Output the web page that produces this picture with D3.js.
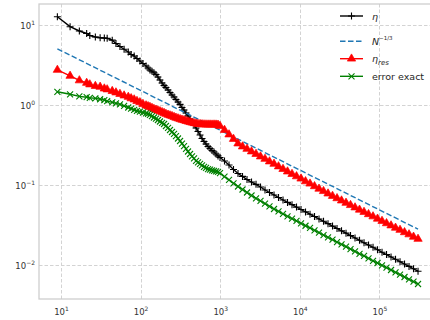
<!DOCTYPE html>
<html>
<head>
<meta charset="utf-8">
<script src="https://cdn.jsdelivr.net/npm/d3@7/dist/d3.min.js"></script>
<style>
body { margin: 0; background: #fff; }
svg text { font-family: "DejaVu Sans", sans-serif; }
</style>
</head>
<body>
<div id="chart"></div>
<script>
const width = 430, height = 320;
const plotLeft = 39, plotTop = 4, plotRight = 430, plotBottom = 299;

// number of degrees of freedom for every refinement step
const dofs = [9, 13, 17, 21, 23, 27, 31, 35, 38, 44, 49, 55, 62, 70, 76, 83, 90, 98,
  107, 117, 124, 131, 139, 147, 156, 165, 175, 186, 197, 208, 221, 234, 248, 263, 278,
  295, 313, 331, 351, 372, 394, 418, 442, 469, 497, 526, 558, 591, 626, 663, 703, 745,
  789, 836, 886, 938, 994, 1132, 1290, 1469, 1673, 1906, 2171, 2473, 2817, 3208, 3654,
  4162, 4741, 5400, 6151, 7006, 7980, 9090, 10354, 11794, 13434, 15301, 17429, 19852,
  22612, 25756, 29337, 33416, 38062, 43354, 49382, 56248, 64069, 72977, 83123, 94681,
  107845, 122840, 139920, 159374, 181533, 206773, 235523, 268270, 305570];

const eta = [12.6, 9.45, 8.35, 7.77, 7.33, 7.02, 6.88, 6.82, 6.75, 6.41, 5.82, 5.34, 4.93,
  4.56, 4.24, 4.06, 3.78, 3.52, 3.27, 3.05,
  2.88, 2.72, 2.62, 2.51, 2.39, 2.22, 2.04, 1.87, 1.74, 1.64, 1.53, 1.42, 1.32, 1.25, 1.16,
  1.08, 1.01, 0.923, 0.859, 0.788, 0.723, 0.663, 0.608, 0.558, 0.512, 0.463, 0.418, 0.378,
  0.347, 0.323, 0.300, 0.284, 0.268, 0.256, 0.242, 0.229, 0.219,
  0.198, 0.176, 0.155, 0.138, 0.127, 0.116, 0.108, 0.101, 0.0936, 0.0859, 0.0799, 0.0744,
  0.0692, 0.0644, 0.0601, 0.0563, 0.0525, 0.0490, 0.0457, 0.0428, 0.0400, 0.0373, 0.0349,
  0.0326, 0.0304, 0.0284, 0.0265, 0.0248, 0.0231, 0.0216, 0.0202, 0.0188, 0.0176, 0.0165,
  0.0154, 0.0143, 0.0134, 0.0125, 0.0117, 0.0109, 0.0102, 0.00953, 0.00889, 0.00830];

const etaRes = [2.72, 2.29, 2.01, 1.87, 1.79, 1.71, 1.67, 1.59, 1.55, 1.48, 1.42, 1.36, 1.30,
  1.25, 1.20, 1.16, 1.11, 1.07, 1.02, 0.978,
  0.955, 0.936, 0.910, 0.884, 0.864, 0.847, 0.827, 0.806, 0.788, 0.766, 0.748, 0.733, 0.719,
  0.702, 0.686, 0.673, 0.659, 0.648, 0.639, 0.626, 0.615, 0.605, 0.596, 0.587, 0.581, 0.574,
  0.571, 0.568, 0.566, 0.565, 0.564, 0.564, 0.563, 0.564, 0.563, 0.561, 0.542,
  0.483, 0.424, 0.373, 0.327, 0.300, 0.280, 0.260, 0.242, 0.225, 0.210, 0.195, 0.182, 0.169,
  0.157, 0.146, 0.136, 0.127, 0.119, 0.110, 0.103, 0.0955, 0.0889, 0.0830, 0.0774, 0.0723,
  0.0676, 0.0633, 0.0592, 0.0555, 0.0519, 0.0486, 0.0456, 0.0427, 0.0401, 0.0375, 0.0352,
  0.0329, 0.0309, 0.0289, 0.0272, 0.0254, 0.0239, 0.0223, 0.0210];

const errExact = [1.45, 1.35, 1.27, 1.24, 1.22, 1.20, 1.17, 1.14, 1.11, 1.07, 1.04, 1.01,
  0.964, 0.923, 0.892, 0.864, 0.839, 0.818, 0.799, 0.781,
  0.766, 0.744, 0.719, 0.692, 0.669, 0.644, 0.617, 0.594, 0.574, 0.542, 0.512, 0.483, 0.456,
  0.431, 0.406, 0.378, 0.352, 0.327, 0.303, 0.280, 0.260, 0.242, 0.226, 0.213, 0.199, 0.190,
  0.182, 0.174, 0.167, 0.162, 0.157, 0.154, 0.151, 0.149, 0.147, 0.145, 0.140,
  0.126, 0.115, 0.104, 0.0950, 0.0871, 0.0799, 0.0733, 0.0676, 0.0626, 0.0579, 0.0537,
  0.0497, 0.0463, 0.0431, 0.0402, 0.0376, 0.0352, 0.0328, 0.0307, 0.0288, 0.0269, 0.0251,
  0.0235, 0.0220, 0.0206, 0.0192, 0.0179, 0.0168, 0.0157, 0.0147, 0.0137, 0.0129, 0.0120,
  0.0112, 0.0105, 0.00981, 0.00918, 0.00859, 0.00802, 0.00750, 0.00702, 0.00655, 0.00613,
  0.00574];

// reference slope line
const refDofs = [9, 305570];
const refLine = [5.0, 0.0278];

const xTicks = [1e1, 1e2, 1e3, 1e4, 1e5];
const yTicks = [1e-2, 1e-1, 1e0, 1e1];

const svg = d3.select("#chart").append("svg")
  .attr("width", width)
  .attr("height", height);

const x = d3.scaleLog().domain([5.29, 432000]).range([plotLeft, plotRight]);
const y = d3.scaleLog().domain([0.003727, 18.15]).range([plotBottom, plotTop]);

svg.append("clipPath").attr("id", "plot")
  .append("rect")
  .attr("x", plotLeft).attr("y", plotTop)
  .attr("width", plotRight - plotLeft).attr("height", plotBottom - plotTop);

// grid
const grid = svg.append("g").attr("stroke", "#d3d3d3").attr("stroke-width", 1)
  .attr("stroke-dasharray", "3.5,2");
grid.selectAll(".gx").data(xTicks).enter().append("line")
  .attr("x1", d => Math.round(x(d)) + 0.5).attr("x2", d => Math.round(x(d)) + 0.5)
  .attr("y1", plotTop).attr("y2", plotBottom);
grid.selectAll(".gy").data(yTicks).enter().append("line")
  .attr("y1", d => Math.round(y(d)) + 0.5).attr("y2", d => Math.round(y(d)) + 0.5)
  .attr("x1", plotLeft).attr("x2", plotRight);

// frame
svg.append("rect")
  .attr("x", plotLeft).attr("y", plotTop)
  .attr("width", plotRight - plotLeft + 5).attr("height", plotBottom - plotTop)
  .attr("fill", "none").attr("stroke", "#cccccc").attr("stroke-width", 1.25);

// tick labels, matplotlib style 10^n
function powLabel(sel) {
  sel.each(function (d) {
    const e = Math.round(Math.log10(d));
    const t = d3.select(this);
    t.text("");
    t.append("tspan").text("10");
    t.append("tspan").attr("dy", -4).attr("font-size", 6)
      .text(e < 0 ? "\u2212" + (-e) : e);
  });
}

const xAxis = d3.axisBottom(x).tickValues(xTicks).tickSize(0).tickPadding(0);
const gx = svg.append("g").attr("transform", `translate(0,${plotBottom})`).call(xAxis);
gx.select(".domain").remove();
gx.selectAll("text")
  .attr("y", 16).attr("dy", null)
  .attr("font-size", 8.5).attr("fill", "#333")
  .call(powLabel);

const yAxis = d3.axisLeft(y).tickValues(yTicks).tickSize(0).tickPadding(0);
const gy = svg.append("g").attr("transform", `translate(${plotLeft},0)`).call(yAxis);
gy.select(".domain").remove();
gy.selectAll("text")
  .attr("x", -4).attr("dy", 3.5)
  .attr("font-size", 8.5).attr("fill", "#333")
  .call(powLabel);

// markers
const plus = "M-3.5,0H3.5M0,-3.5V3.5";
const cross = "M-3,-3L3,3M-3,3L3,-3";
const tri = d3.symbol(d3.symbolTriangle, 30)();

const series = [
  { name: "eta", xs: dofs, ys: eta, color: "#000000", marker: plus, fill: "none", width: 1.4 },
  { name: "ref", xs: refDofs, ys: refLine, color: "#1f77b4", marker: null, dash: "5.5,2.5", width: 1.4 },
  { name: "etaRes", xs: dofs, ys: etaRes, color: "#ff0000", marker: tri, fill: "#ff0000", width: 1.4 },
  { name: "err", xs: dofs, ys: errExact, color: "#008000", marker: cross, fill: "none", width: 1.4 }
];

const line = d3.line().x(d => x(d[0])).y(d => y(d[1]));
const plot = svg.append("g").attr("clip-path", "url(#plot)");

series.forEach(s => {
  const pts = s.xs.map((v, i) => [v, s.ys[i]]);
  plot.append("path")
    .datum(pts)
    .attr("d", line)
    .attr("fill", "none")
    .attr("stroke", s.color)
    .attr("stroke-width", s.width)
    .attr("stroke-dasharray", s.dash || null);
  if (s.marker) {
    plot.append("g").selectAll("path")
      .data(pts).enter().append("path")
      .attr("d", s.marker)
      .attr("transform", d => `translate(${x(d[0])},${y(d[1])})`)
      .attr("fill", s.fill)
      .attr("stroke", s.color)
      .attr("stroke-width", s.fill === "none" ? 1.1 : 0.7);
  }
});

// legend
const legendRows = [16, 41.3, 58.7, 76.3];
const lg = svg.append("g");
series.forEach((s, i) => {
  const ly = legendRows[i];
  lg.append("line")
    .attr("x1", 340).attr("x2", 363).attr("y1", ly).attr("y2", ly)
    .attr("stroke", s.color).attr("stroke-width", s.width)
    .attr("stroke-dasharray", s.dash || null);
  if (s.marker) {
    lg.append("path").attr("d", s.marker)
      .attr("transform", `translate(351.5,${ly})`)
      .attr("fill", s.fill).attr("stroke", s.color)
      .attr("stroke-width", s.fill === "none" ? 1.1 : 0.7);
  }
});

const lt = (i) => lg.append("text").attr("x", 372).attr("y", legendRows[i] + 3.5)
  .attr("font-size", 9.5).attr("fill", "#262626");

lt(0).append("tspan").attr("font-style", "italic").text("\u03b7");
const t1 = lt(1);
t1.append("tspan").attr("font-style", "italic").text("N");
t1.append("tspan").attr("dy", -5).attr("font-size", 5.5).text("\u22121/3");
const t2 = lt(2);
t2.append("tspan").attr("font-style", "italic").text("\u03b7");
t2.append("tspan").attr("dy", 2.5).attr("font-size", 7).attr("font-style", "italic").text("res");
lt(3).text("error exact");
</script>
</body>
</html>
